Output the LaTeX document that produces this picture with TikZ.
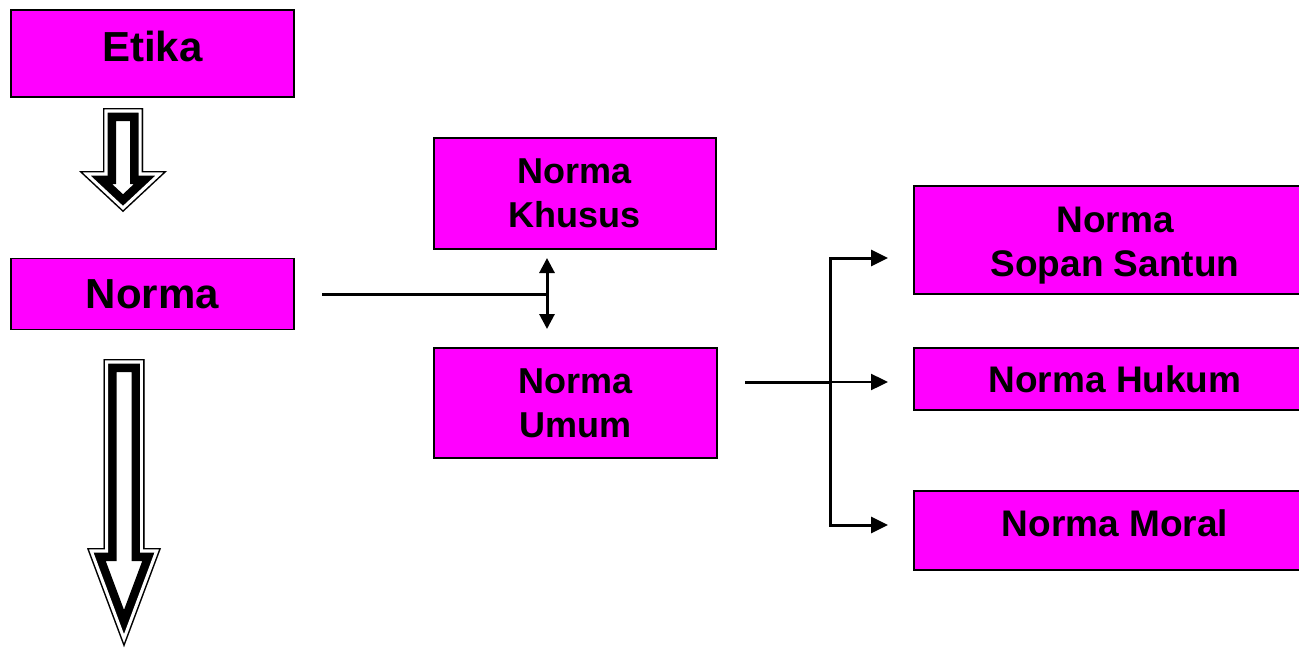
\documentclass[tikz,border=0pt]{standalone}
\usepackage{fontspec}
\setmainfont{Liberation Sans}
\usetikzlibrary{arrows.meta}
\definecolor{boxfill}{HTML}{FF00FF}

% hollow down-arrow: #1 centre x, #2 top, #3 head base, #4 tip, #5 shaft half-width, #6 head half-width
\newcommand\hollowdown[6]{%
  \def\arrowpath{({#1-#5},#2) -- ({#1+#5},#2) -- ({#1+#5},#3) -- ({#1+#6},#3) -- (#1,#4) -- ({#1-#6},#3) -- ({#1-#5},#3) -- cycle}%
  \begin{scope}
    \clip \arrowpath;
    \draw[line width=26, line join=miter] \arrowpath;
    \draw[white, line width=9, line join=miter] \arrowpath;
    \draw[line width=2.6, line join=miter] \arrowpath;
  \end{scope}}

\tikzset{
  box/.style={draw=black, line width=1.6, fill=boxfill, inner sep=0pt, align=center,
              font=\fontsize{36}{44}\selectfont\bfseries},
  widebox/.style={box, font=\fontsize{37}{44}\selectfont\bfseries},
  bigbox/.style={box, font=\fontsize{42}{46}\selectfont\bfseries},
  conn/.style={line width=3, line cap=butt},
  tip/.style={-{Triangle[length=17pt, width=16pt]}},
  bothtips/.style={{Triangle[length=15pt, width=15pt]}-{Triangle[length=15pt, width=15pt]}},
}

\begin{document}
\begin{tikzpicture}[x=1pt, y=-1pt]
  \useasboundingbox (0,0) rectangle (1299,648);
  \clip (0,0) rectangle (1299,648);

  % left column
  \node[bigbox, minimum width=283, minimum height=87] (etika) at (152.5,53.5) {\raisebox{14pt}{Etika}};
  \node[bigbox, minimum width=283, minimum height=71] (norma) at (152.5,294) {Norma};

  \hollowdown{123}{108}{171}{212}{20}{44}
  \hollowdown{124}{359}{548}{647}{20.5}{37}

  % middle column
  \node[box, minimum width=282, minimum height=111] (khusus) at (575,193.5) {Norma\\Khusus};
  \node[box, minimum width=283, minimum height=110] (umum) at (575.5,403) {Norma\\Umum};

  % right column
  \node[widebox, minimum width=402, minimum height=108] (sopan) at (1115,240) {\rule{0pt}{36pt}Norma\\Sopan Santun};
  \node[widebox, minimum width=402, minimum height=62] (hukum) at (1115,379) {\raisebox{-2pt}{Norma Hukum}};
  \node[widebox, minimum width=402, minimum height=79] (moral) at (1115,530.5) {Norma Moral\rule[-14pt]{0pt}{0pt}};

  % Norma to Khusus/Umum
  \coordinate (j1) at (547,294);
  \coordinate (k1) at (547,258);
  \coordinate (u1) at (547,329);
  \coordinate (s1) at (322,294);
  \draw[conn] (s1) -- (j1);
  \draw[conn, bothtips] (k1) -- (u1);

  % Umum to the three norms
  \coordinate (j2) at (830,382);
  \coordinate (s2) at (745,382);
  \coordinate (t1) at (888,258);
  \coordinate (t2) at (888,382);
  \coordinate (t3) at (888,525);
  \draw[conn] (s2) -- (j2);
  \draw[conn, tip] (j2) |- (t1);
  \draw[conn, line width=2.4, tip] (j2) -- (t2);
  \draw[conn, tip] (j2) |- (t3);
\end{tikzpicture}
\end{document}
